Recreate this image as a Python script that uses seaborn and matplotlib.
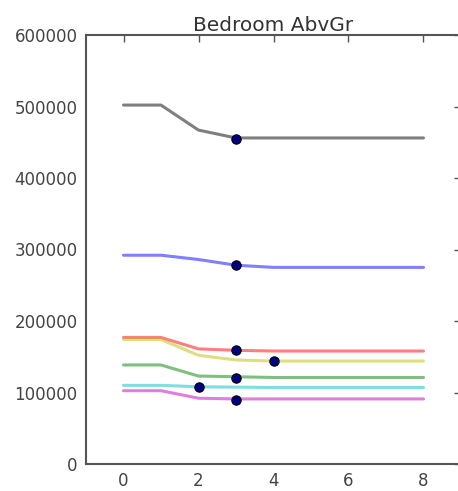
import matplotlib
matplotlib.use("Agg")
import matplotlib.pyplot as plt
import seaborn as sns
import pandas as pd
import numpy as np

title = "Bedroom AbvGr"
x_values = [0, 1, 2, 3, 4, 5, 6, 7, 8]
series_black = [502000, 502000, 467000, 456000, 456000, 456000, 456000, 456000, 456000]
series_blue = [292000, 292000, 286000, 278000, 275000, 275000, 275000, 275000, 275000]
series_red = [177000, 177000, 161000, 159000, 158000, 158000, 158000, 158000, 158000]
series_yellow = [174000, 174000, 152000, 145500, 144000, 144000, 144000, 144000, 144000]
series_green = [138500, 138500, 123000, 122000, 121000, 121000, 121000, 121000, 121000]
series_cyan = [110000, 110000, 108000, 107500, 107000, 107000, 107000, 107000, 107000]
series_magenta = [102500, 102500, 92000, 91000, 91000, 91000, 91000, 91000, 91000]
series_names = ["black", "blue", "red", "yellow", "green", "cyan", "magenta"]
series_colors = ["k", "b", "r", "y", "g", "c", "m"]
point_x = [3, 3, 3, 4, 3, 2, 3]
point_y = [455000, 278000, 159000, 144000, 120000, 107700, 90000]
y_ticks = [0, 100000, 200000, 300000, 400000, 500000, 600000]
x_ticks = [0, 2, 4, 6, 8]

all_series = [series_black, series_blue, series_red, series_yellow,
              series_green, series_cyan, series_magenta]
rows = []
for name, vals in zip(series_names, all_series):
    for xv, yv in zip(x_values, vals):
        rows.append({"x": xv, "y": yv, "series": name})
df = pd.DataFrame(rows)
pts = pd.DataFrame({"x": point_x, "y": point_y})

sns.set_style("white")
plt.rcParams["font.family"] = ["DejaVu Sans"]

fig = plt.figure(figsize=(4.58, 4.91), dpi=100)
ax = fig.add_axes([86/458, 27/491, 375/458, 429/491])

sns.lineplot(data=df, x="x", y="y", hue="series", palette=dict(zip(series_names, series_colors)),
             hue_order=series_names, linewidth=2.2, alpha=0.5, legend=False, ax=ax)
sns.scatterplot(data=pts, x="x", y="y", color="#000080", edgecolor="black", linewidth=0.8,
                s=45, zorder=5, legend=False, ax=ax)

ax.set_xlim(-1, 9)
ax.set_ylim(0, 600000)
ax.set_xticks(x_ticks)
ax.set_yticks(y_ticks)
ax.set_xlabel("")
ax.set_ylabel("")
ax.set_title(title, fontsize=14.5, color="#333333", pad=3)
ax.tick_params(direction="in", top=True, right=True, length=5, width=1,
               labelsize=12, labelcolor="#444444", color="#555555", pad=6)
for sp in ax.spines.values():
    sp.set_color("#555555")
    sp.set_linewidth(1.5)

fig.savefig("out.png", dpi=100)
